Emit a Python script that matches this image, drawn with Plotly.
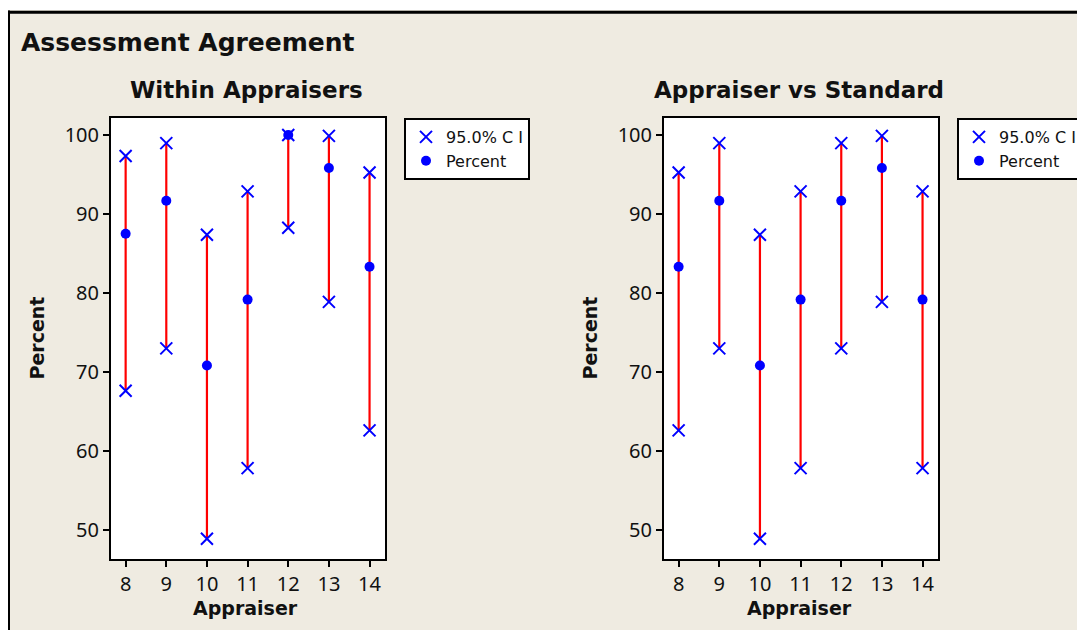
import plotly.graph_objects as go

W, H = 1085, 630
# The page body has an 8px margin; positions below are given in page pixels
OFFSET = 8

appraisers = [8, 9, 10, 11, 12, 13, 14]
tick_labels = ["8", "9", "10", "11", "12", "13", "14"]
y_ticks = [50, 60, 70, 80, 90, 100]

within_pct = [87.50, 91.67, 70.83, 79.17, 100.0, 95.83, 83.33]
within_lower = [67.64, 73.00, 48.91, 57.85, 88.26, 78.88, 62.62]
within_upper = [97.34, 98.97, 87.38, 92.87, 100.0, 99.89, 95.26]

std_pct = [83.33, 91.67, 70.83, 79.17, 91.67, 95.83, 79.17]
std_lower = [62.62, 73.00, 48.91, 57.85, 73.00, 78.88, 57.85]
std_upper = [95.26, 98.97, 87.38, 92.87, 98.97, 99.89, 92.87]

BEIGE = "#EFEBE1"
BLUE = "#0000FF"
RED = "#FF0000"
INK = "#111111"
TICK_FONT = dict(family="Noto Sans", size=20, color=INK)
BOLD = "DejaVu Sans"


def px_x(p):
    return (p - OFFSET) / W


def px_y(p):
    return 1 - (p - OFFSET) / H


fig = go.Figure()


def add_panel(xa, ya, legend, pct, lower, upper):
    lx, ly = [], []
    for a, lo, hi in zip(appraisers, lower, upper):
        lx += [a, a, None]
        ly += [lo, hi, None]
    fig.add_trace(go.Scatter(x=lx, y=ly, mode="lines", line=dict(color=RED, width=2.2),
                             xaxis=xa, yaxis=ya, showlegend=False, hoverinfo="skip"))
    fig.add_trace(go.Scatter(x=appraisers + appraisers, y=upper + lower, mode="markers",
                             marker=dict(symbol="x-thin-open", size=12, color=BLUE,
                                         line=dict(color=BLUE, width=2)),
                             name="95.0% C I", xaxis=xa, yaxis=ya, legend=legend))
    fig.add_trace(go.Scatter(x=appraisers, y=pct, mode="markers",
                             marker=dict(symbol="circle", size=10, color=BLUE),
                             name="Percent", xaxis=xa, yaxis=ya, legend=legend))


add_panel("x", "y", "legend", within_pct, within_lower, within_upper)
add_panel("x2", "y2", "legend2", std_pct, std_lower, std_upper)

xaxis_common = dict(range=[7.64, 14.38], tickvals=appraisers, ticktext=tick_labels,
                    showgrid=False, zeroline=False, showline=True, linecolor="black",
                    linewidth=2, mirror=True, ticks="outside", ticklen=6, tickwidth=2,
                    tickcolor="black", tickfont=TICK_FONT, fixedrange=True)
yaxis_common = dict(range=[46.35, 102.15], tickvals=y_ticks,
                    showgrid=False, zeroline=False, showline=True, linecolor="black",
                    linewidth=2, mirror=True, ticks="outside", ticklen=6, tickwidth=2,
                    tickcolor="black", tickfont=TICK_FONT, fixedrange=True)

ydom = [px_y(559), px_y(118)]
legend_common = dict(bgcolor="white", bordercolor="black", borderwidth=2,
                     font=dict(family="DejaVu Sans", size=16, color=INK),
                     xanchor="left", yanchor="top", tracegroupgap=0)

fig.update_layout(
    width=W, height=H,
    margin=dict(l=0, r=0, t=0, b=0),
    paper_bgcolor=BEIGE, plot_bgcolor="white",
    xaxis=dict(domain=[px_x(111), px_x(385)], anchor="y", **xaxis_common),
    yaxis=dict(domain=ydom, anchor="x", **yaxis_common),
    xaxis2=dict(domain=[px_x(664), px_x(938)], anchor="y2", **xaxis_common),
    yaxis2=dict(domain=ydom, anchor="x2", **yaxis_common),
    legend=dict(x=px_x(404), y=px_y(118), **legend_common),
    legend2=dict(x=px_x(957), y=px_y(118), **legend_common),
    showlegend=True,
)

# Outer frame: white strip at top, black border lines at top and left
fig.add_shape(type="rect", xref="paper", yref="paper", x0=0, x1=1, y0=px_y(10), y1=1,
              fillcolor="white", line=dict(width=0), layer="below")
fig.add_shape(type="line", xref="paper", yref="paper", x0=px_x(8.5), x1=px_x(8.5),
              y0=0, y1=px_y(10.5), line=dict(color="black", width=3))
fig.add_shape(type="line", xref="paper", yref="paper", x0=px_x(7), x1=1,
              y0=px_y(12.2), y1=px_y(12.2), line=dict(color="black", width=3))


def ann(text, x, y, size, angle=0, anchor="center"):
    return dict(text=text, x=px_x(x), y=px_y(y), xref="paper", yref="paper",
                xanchor=anchor, yanchor="middle", textangle=angle, showarrow=False,
                font=dict(family=BOLD, size=size, color=INK, weight="bold"))


fig.update_layout(annotations=[
    ann("Assessment Agreement", 19, 42, 25, anchor="left"),
    ann("Within Appraisers", 246.5, 90, 23),
    ann("Appraiser vs Standard", 798.5, 90, 23),
    ann("Appraiser", 245.5, 608, 19),
    ann("Appraiser", 799, 608, 19),
    ann("Percent", 36, 338.5, 19, angle=-90),
    ann("Percent", 589, 338.5, 19, angle=-90),
])

fig.write_html("out.html")
